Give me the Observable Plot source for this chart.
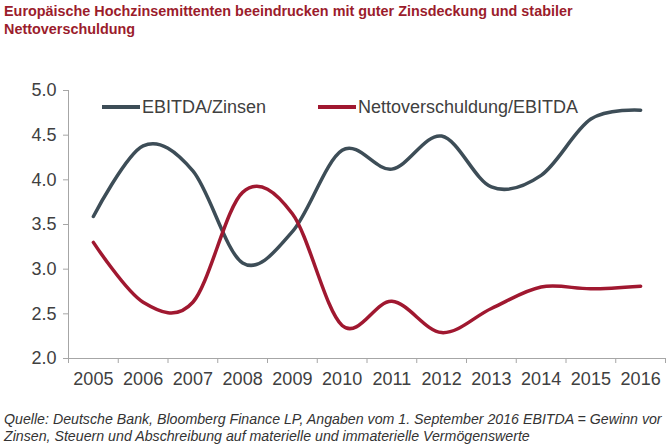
<!DOCTYPE html>
<html><head><meta charset="utf-8">
<script src="https://cdn.jsdelivr.net/npm/d3@7"></script>
<script src="https://cdn.jsdelivr.net/npm/@observablehq/plot@0.6"></script>
<style>
body{margin:0;background:#fff;font-family:"Liberation Sans",Arial,sans-serif;}
#wrap{position:relative;width:668px;height:447px;overflow:hidden;background:#fff}
#title{position:absolute;left:4px;top:2px;font-weight:bold;font-size:14.4px;line-height:18px;color:#9b1c2c;white-space:nowrap}
#chart{position:absolute;left:0;top:40px}
#caption{position:absolute;left:4px;top:411px;font-style:italic;font-size:14.2px;line-height:17px;color:#333;white-space:nowrap}
.leg{position:absolute;font-size:18px;color:#404040;white-space:nowrap;line-height:18px}
.leg span.sw{display:inline-block;width:38px;height:4px;vertical-align:middle;margin-right:2px;position:relative;top:-1px}
</style></head>
<body>
<div id="wrap">
  <div id="title">Europäische Hochzinsemittenten beeindrucken mit guter Zinsdeckung und stabiler<br>Nettoverschuldung</div>
  <div id="chart"></div>
  <div id="legend"></div>
  <div id="caption">Quelle: Deutsche Bank, Bloomberg Finance LP, Angaben vom 1. September 2016 EBITDA = Gewinn vor<br>Zinsen, Steuern und Abschreibung auf materielle und immaterielle Vermögenswerte</div>
</div>
<script>
const years = [2005, 2006, 2007, 2008, 2009, 2010, 2011, 2012, 2013, 2014, 2015, 2016];
const ebitdaZinsen = [3.59, 4.38, 4.1, 3.07, 3.42, 4.33, 4.12, 4.49, 3.92, 4.05, 4.68, 4.78];
const nettoEbitda = [3.3, 2.63, 2.63, 3.86, 3.62, 2.37, 2.64, 2.29, 2.56, 2.8, 2.78, 2.81];
const seriesNames = ["EBITDA/Zinsen", "Nettoverschuldung/EBITDA"];
const seriesColors = ["#3d4d57", "#a01830"];
const yTicks = [2.0, 2.5, 3.0, 3.5, 4.0, 4.5, 5.0];

const seriesValues = [ebitdaZinsen, nettoEbitda];
const data = seriesNames.flatMap((name, s) =>
  years.map((year, i) => ({year, value: seriesValues[s][i], series: name})));
const boundaries = [years[0] - 0.5, ...years.map(y => y + 0.5)];

const axisColor = "#a6a6a6";
const chart = Plot.plot({
  width: 668, height: 360,
  marginTop: 50, marginBottom: 42, marginLeft: 68, marginRight: 3,
  x: {domain: [boundaries[0], boundaries[boundaries.length - 1]], label: null},
  y: {domain: [yTicks[0], yTicks[yTicks.length - 1]], label: null},
  color: {domain: seriesNames, range: seriesColors},
  style: {fontFamily: "'Liberation Sans', Arial, sans-serif", fontSize: "18px", color: "#404040", background: "transparent"},
  marks: [
    Plot.axisY({ticks: yTicks, tickFormat: d3.format(".1f"), tickSize: 5, tickPadding: 7, stroke: axisColor, fill: "#404040", label: null}),
    Plot.axisX({ticks: years, tickFormat: d => String(d), tickSize: 0, tickPadding: 14, fill: "#404040", label: null}),
    Plot.axisX({ticks: boundaries, tickFormat: () => "", tickSize: 5, stroke: axisColor, label: null}),
    Plot.ruleY([yTicks[0]], {stroke: axisColor}),
    Plot.ruleX([boundaries[0]], {stroke: axisColor}),
    Plot.line(data, {x: "year", y: "value", stroke: "series", curve: "cardinal", tension: 0, strokeWidth: 3.5})
  ]
});
document.getElementById("chart").appendChild(chart);

const legendPos = [{left: 102, top: 98}, {left: 318, top: 98}];
const legend = document.getElementById("legend");
seriesNames.forEach((name, i) => {
  const d = document.createElement("div");
  d.className = "leg";
  d.style.left = legendPos[i].left + "px";
  d.style.top = legendPos[i].top + "px";
  d.innerHTML = `<span class="sw" style="background:${seriesColors[i]}"></span>${name}`;
  legend.appendChild(d);
});
</script>
</body></html>
